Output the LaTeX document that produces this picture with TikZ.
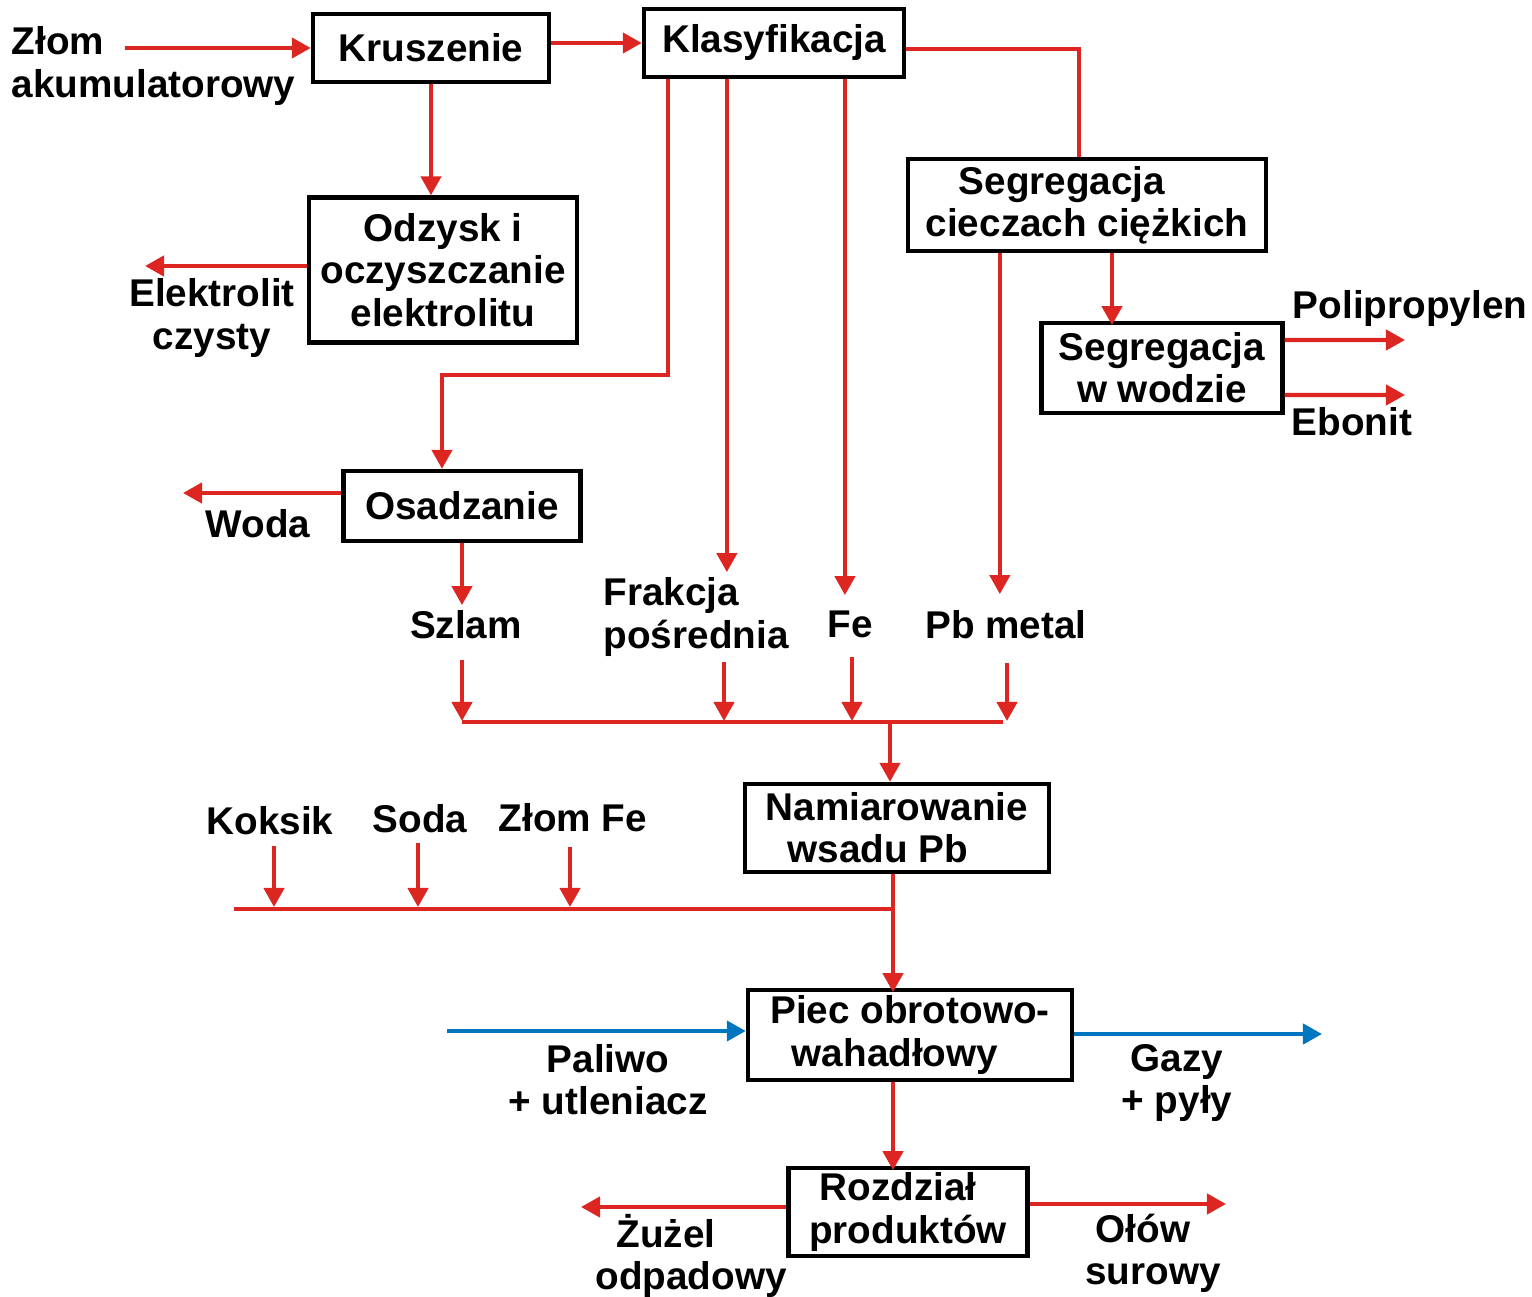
\documentclass[tikz,border=0pt]{standalone}
\usepackage{fontspec}
\setmainfont{Liberation Sans}
\usetikzlibrary{arrows.meta}
\definecolor{flowred}{RGB}{221,38,34}
\definecolor{flowblue}{RGB}{0,118,192}

\begin{document}
\begin{tikzpicture}[
        x=0.01cm, y=-0.01cm,
        every node/.style={
            font=\fontsize{11}{12}\selectfont\bfseries,
            align=center,
            inner sep=0pt,
        },
        proc/.style={draw, line width=1.2pt},
        pipe/.style={draw=flowred, line width=1.2pt},
        flow/.style={pipe, -{Triangle[length=0.19cm,width=0.2cm]}},
        gasflow/.style={flow, draw=flowblue},
    ]
    \useasboundingbox (0,0) rectangle (1532,1297);

    % boxes
    \node[proc, minimum width=2.36cm, minimum height=0.68cm] (krus) at (431,48) {Kruszenie};
    \node[proc, minimum width=2.60cm, minimum height=0.68cm] (klas) at (774,43) {Klasyfikacja};
    \node[proc, minimum width=2.68cm, minimum height=1.45cm] (odz) at (443,270) {Odzysk i\\oczyszczanie\\elektrolitu};
    \node[proc, minimum width=3.58cm, minimum height=0.92cm] (segc) at (1087,205) {Segregacja\hspace*{0.5cm}\\cieczach ciężkich};
    \node[proc, minimum width=2.41cm, minimum height=0.90cm] (segw) at (1162,368) {Segregacja\\w wodzie};
    \node[proc, minimum width=2.37cm, minimum height=0.70cm] (osad) at (462,506) {Osadzanie};
    \node[proc, minimum width=3.04cm, minimum height=0.88cm] (nam) at (897,828) {Namiarowanie\\wsadu Pb\hspace*{0.38cm}};
    \node[proc, minimum width=3.24cm, minimum height=0.90cm] (piec) at (910,1035) {Piec obrotowo-\\wahadłowy\hspace*{0.3cm}};
    \node[proc, minimum width=2.39cm, minimum height=0.88cm] (rozd) at (908,1212) {Rozdział\hspace*{0.2cm}\\produktów};

    % labels
    \node[anchor=west, align=left] (zlom) at (11,66) {Złom\\akumulatorowy};
    \node (elek) at (212,318) {Elektrolit\\czysty};
    \node (woda) at (258,524) {Woda};
    \node (szlam) at (466,625) {Szlam};
    \node[anchor=west, align=left] (frak) at (603,617) {Frakcja\\pośrednia};
    \node (fe) at (850,624) {Fe};
    \node (pbm) at (1006,625) {Pb metal};
    \node (polip) at (1410,309) {Polipropylen};
    \node (ebon) at (1352,422) {Ebonit};
    \node (koks) at (270,821) {Koksik};
    \node (soda) at (420,819) {Soda};
    \node (zfe) at (573,818) {Złom Fe};
    \node (pal) at (608,1080) {Paliwo\\+ utleniacz};
    \node (gazy) at (1177,1083) {Gazy\\+ pyły};
    \node (zuz) at (691,1256) {Żużel\hspace*{0.5cm}\\odpadowy};
    \node (olow) at (1153,1253) {Ołów\hspace*{0.2cm}\\surowy};

    \coordinate (zin) at (125,48);
    \coordinate (elout) at (145,266);
    \coordinate (wout) at (183,493);
    \coordinate (ppout) at (1405,340);
    \coordinate (ebout) at (1405,395);
    \coordinate (busa) at (890,722);
    \coordinate (fin) at (447,1031);
    \coordinate (gout) at (1322,1034);
    \coordinate (zout) at (581,1207);
    \coordinate (pbout) at (1226,1204);

    % upper part
    \draw[flow] (zin) -- (krus.west);
    \draw[flow] (krus.east |- klas.west) -- (klas.west);
    \draw[flow] (krus.south) -- (krus.south |- odz.north);
    \draw[flow] (odz.west |- elout) -- (elout);
    \draw[pipe] ([yshift=-0.06cm]klas.east) -| ([xshift=-0.08cm]segc.north);
    \draw[flow] ([xshift=0.26cm]klas.south west) -- ++(0,296) -| ([xshift=-0.2cm]osad.north);
    \draw[flow] ([xshift=0.85cm]klas.south west) -- ++(0,493);
    \draw[flow] ([xshift=2.03cm]klas.south west) -- ++(0,516);
    \draw[flow] ([xshift=0.94cm]segc.south west) -- ++(0,341);
    \draw[flow] ([xshift=0.25cm]segc.south) -- ++(0,72);
    \draw[flow] ([yshift=0.28cm]segw.east) -- (ppout);
    \draw[flow] ([yshift=-0.27cm]segw.east) -- (ebout);
    \draw[flow] (osad.west |- wout) -- (wout);
    \draw[flow] (osad.south) -- ++(0,62);

    % charge
    \draw[pipe] (462,722) -- (1003,722);
    \foreach \x/\t in {462/660, 724/662, 852/657, 1007/663}
        \draw[flow] (\x,\t) -- (\x,721);
    \draw[flow] (busa) -- (busa |- nam.north);
    \draw[pipe] (234,909) -- (893,909);
    \foreach \x/\t in {274/846, 418/843, 570/847}
        \draw[flow] (\x,\t) -- (\x,907);
    \draw[flow] ([xshift=-0.04cm]nam.south) -- ++(0,118);

    % furnace
    \draw[gasflow] (fin) -- (piec.west |- fin);
    \draw[gasflow] (piec.east |- gout) -- (gout);
    \draw[flow] ([xshift=-0.17cm]piec.south) -- ++(0,88);
    \draw[flow] (rozd.west |- zout) -- (zout);
    \draw[flow] (rozd.east |- pbout) -- (pbout);
\end{tikzpicture}
\end{document}
